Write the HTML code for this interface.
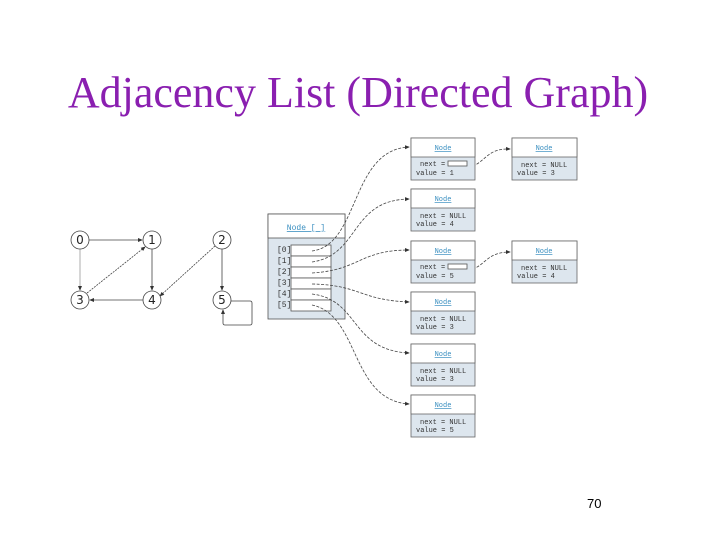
<!DOCTYPE html>
<html><head><style>
body{margin:0;width:720px;height:540px;background:#fff;overflow:hidden;position:relative;font-family:"Liberation Sans",sans-serif}
.t{position:absolute;left:-2px;width:720px;top:67px;text-align:center;font-family:"Liberation Serif",serif;font-size:44px;color:#8a1fb0;white-space:nowrap}
.pg{position:absolute;left:587px;top:496px;font-size:13px;font-family:"Liberation Sans",sans-serif}
</style></head><body>
<div class="t">Adjacency List (Directed Graph)</div>
<div class="pg">70</div>
<svg width="720" height="540" style="position:absolute;left:0;top:0" font-family="Liberation Mono, monospace">
<defs><marker id="a" markerWidth="6" markerHeight="6" refX="5" refY="3" orient="auto"><path d="M0,0.5L6,3L0,5.5z" fill="#333"/></marker></defs>
<g stroke="#444" fill="none" stroke-width="0.8">
<line x1="89" y1="240" x2="142" y2="240" marker-end="url(#a)"/>
<line x1="80" y1="249" x2="80" y2="290" marker-end="url(#a)" stroke="#999"/>
<line x1="152" y1="249" x2="152" y2="290" marker-end="url(#a)"/>
<line x1="143" y1="300" x2="90" y2="300" marker-end="url(#a)"/>
<line x1="87" y1="293" x2="145" y2="247" marker-end="url(#a)" stroke-dasharray="2,1"/>
<line x1="215" y1="246" x2="160" y2="296" marker-end="url(#a)" stroke-dasharray="2,1"/>
<line x1="222" y1="249" x2="222" y2="290" marker-end="url(#a)"/>
<path d="M231,301 H250 Q252,301 252,303 V323 Q252,325 250,325 H225 Q223,325 223,323 V310" marker-end="url(#a)"/>
</g>
<g font-size="12" text-anchor="middle" fill="#222" font-family="DejaVu Sans, sans-serif">
<g fill="#fff" stroke="#444" stroke-width="0.8">
<circle cx="80" cy="240" r="9"/><circle cx="152" cy="240" r="9"/><circle cx="222" cy="240" r="9"/>
<circle cx="80" cy="300" r="9"/><circle cx="152" cy="300" r="9"/><circle cx="222" cy="300" r="9"/></g>
<text x="80" y="244">0</text><text x="152" y="244">1</text><text x="222" y="244">2</text>
<text x="80" y="304">3</text><text x="152" y="304">4</text><text x="222" y="304">5</text>
</g>
<rect x="268" y="214" width="77" height="105" fill="#dde6ee" stroke="#555" stroke-width="0.8"/>
<rect x="268" y="214" width="77" height="24" fill="#fff" stroke="#555" stroke-width="0.8"/>
<text x="306" y="230" font-size="8" fill="#3a8fc0" text-anchor="middle" text-decoration="underline">Node [ ]</text>
<g font-size="8" fill="#333">
<text x="277" y="252">[0]</text><text x="277" y="263">[1]</text><text x="277" y="274">[2]</text><text x="277" y="285">[3]</text><text x="277" y="296">[4]</text><text x="277" y="307">[5]</text></g>
<g fill="#fff" stroke="#555" stroke-width="0.8">
<rect x="291" y="245" width="40" height="11"/><rect x="291" y="256" width="40" height="11"/><rect x="291" y="267" width="40" height="11"/>
<rect x="291" y="278" width="40" height="11"/><rect x="291" y="289" width="40" height="11"/><rect x="291" y="300" width="40" height="11"/></g>
<g stroke="#444" fill="none" stroke-width="0.8" stroke-dasharray="3,1.5">
<path d="M312,251 C360,245 350,150 409,147" marker-end="url(#a)"/>
<path d="M312,262 C360,255 350,200 409,199" marker-end="url(#a)"/>
<path d="M312,273 C360,270 360,250 409,250" marker-end="url(#a)"/>
<path d="M312,284 C360,285 360,300 409,302" marker-end="url(#a)"/>
<path d="M312,294 C360,300 350,350 409,353" marker-end="url(#a)"/>
<path d="M312,305 C360,315 350,400 409,404" marker-end="url(#a)"/>
<path d="M468,167 C485,165 485,148 510,149" marker-end="url(#a)"/>
<path d="M468,270 C485,268 485,252 510,252" marker-end="url(#a)"/>
</g>
<g font-size="7" stroke-width="0.8">
<g transform="translate(411,138)"><rect width="64" height="42" fill="#dde6ee" stroke="#666"/><rect width="64" height="19" fill="#fff" stroke="#666"/><text x="32" y="12" fill="#3a8fc0" text-anchor="middle" text-decoration="underline">Node</text><text x="9" y="28" fill="#333">next =</text><rect x="37" y="23" width="19" height="5" fill="#fff" stroke="#555"/><text x="5" y="37" fill="#333">value = 1</text></g>
<g transform="translate(411,189)"><rect width="64" height="42" fill="#dde6ee" stroke="#666"/><rect width="64" height="19" fill="#fff" stroke="#666"/><text x="32" y="12" fill="#3a8fc0" text-anchor="middle" text-decoration="underline">Node</text><text x="9" y="29" fill="#333">next = NULL</text><text x="5" y="37" fill="#333">value = 4</text></g>
<g transform="translate(411,241)"><rect width="64" height="42" fill="#dde6ee" stroke="#666"/><rect width="64" height="19" fill="#fff" stroke="#666"/><text x="32" y="12" fill="#3a8fc0" text-anchor="middle" text-decoration="underline">Node</text><text x="9" y="28" fill="#333">next =</text><rect x="37" y="23" width="19" height="5" fill="#fff" stroke="#555"/><text x="5" y="37" fill="#333">value = 5</text></g>
<g transform="translate(411,292)"><rect width="64" height="42" fill="#dde6ee" stroke="#666"/><rect width="64" height="19" fill="#fff" stroke="#666"/><text x="32" y="12" fill="#3a8fc0" text-anchor="middle" text-decoration="underline">Node</text><text x="9" y="29" fill="#333">next = NULL</text><text x="5" y="37" fill="#333">value = 3</text></g>
<g transform="translate(411,344)"><rect width="64" height="42" fill="#dde6ee" stroke="#666"/><rect width="64" height="19" fill="#fff" stroke="#666"/><text x="32" y="12" fill="#3a8fc0" text-anchor="middle" text-decoration="underline">Node</text><text x="9" y="29" fill="#333">next = NULL</text><text x="5" y="37" fill="#333">value = 3</text></g>
<g transform="translate(411,395)"><rect width="64" height="42" fill="#dde6ee" stroke="#666"/><rect width="64" height="19" fill="#fff" stroke="#666"/><text x="32" y="12" fill="#3a8fc0" text-anchor="middle" text-decoration="underline">Node</text><text x="9" y="29" fill="#333">next = NULL</text><text x="5" y="37" fill="#333">value = 5</text></g>
<g transform="translate(512,138)"><rect width="65" height="42" fill="#dde6ee" stroke="#666"/><rect width="65" height="19" fill="#fff" stroke="#666"/><text x="32" y="12" fill="#3a8fc0" text-anchor="middle" text-decoration="underline">Node</text><text x="9" y="29" fill="#333">next = NULL</text><text x="5" y="37" fill="#333">value = 3</text></g>
<g transform="translate(512,241)"><rect width="65" height="42" fill="#dde6ee" stroke="#666"/><rect width="65" height="19" fill="#fff" stroke="#666"/><text x="32" y="12" fill="#3a8fc0" text-anchor="middle" text-decoration="underline">Node</text><text x="9" y="29" fill="#333">next = NULL</text><text x="5" y="37" fill="#333">value = 4</text></g>
</g>
</svg>
</body></html>
